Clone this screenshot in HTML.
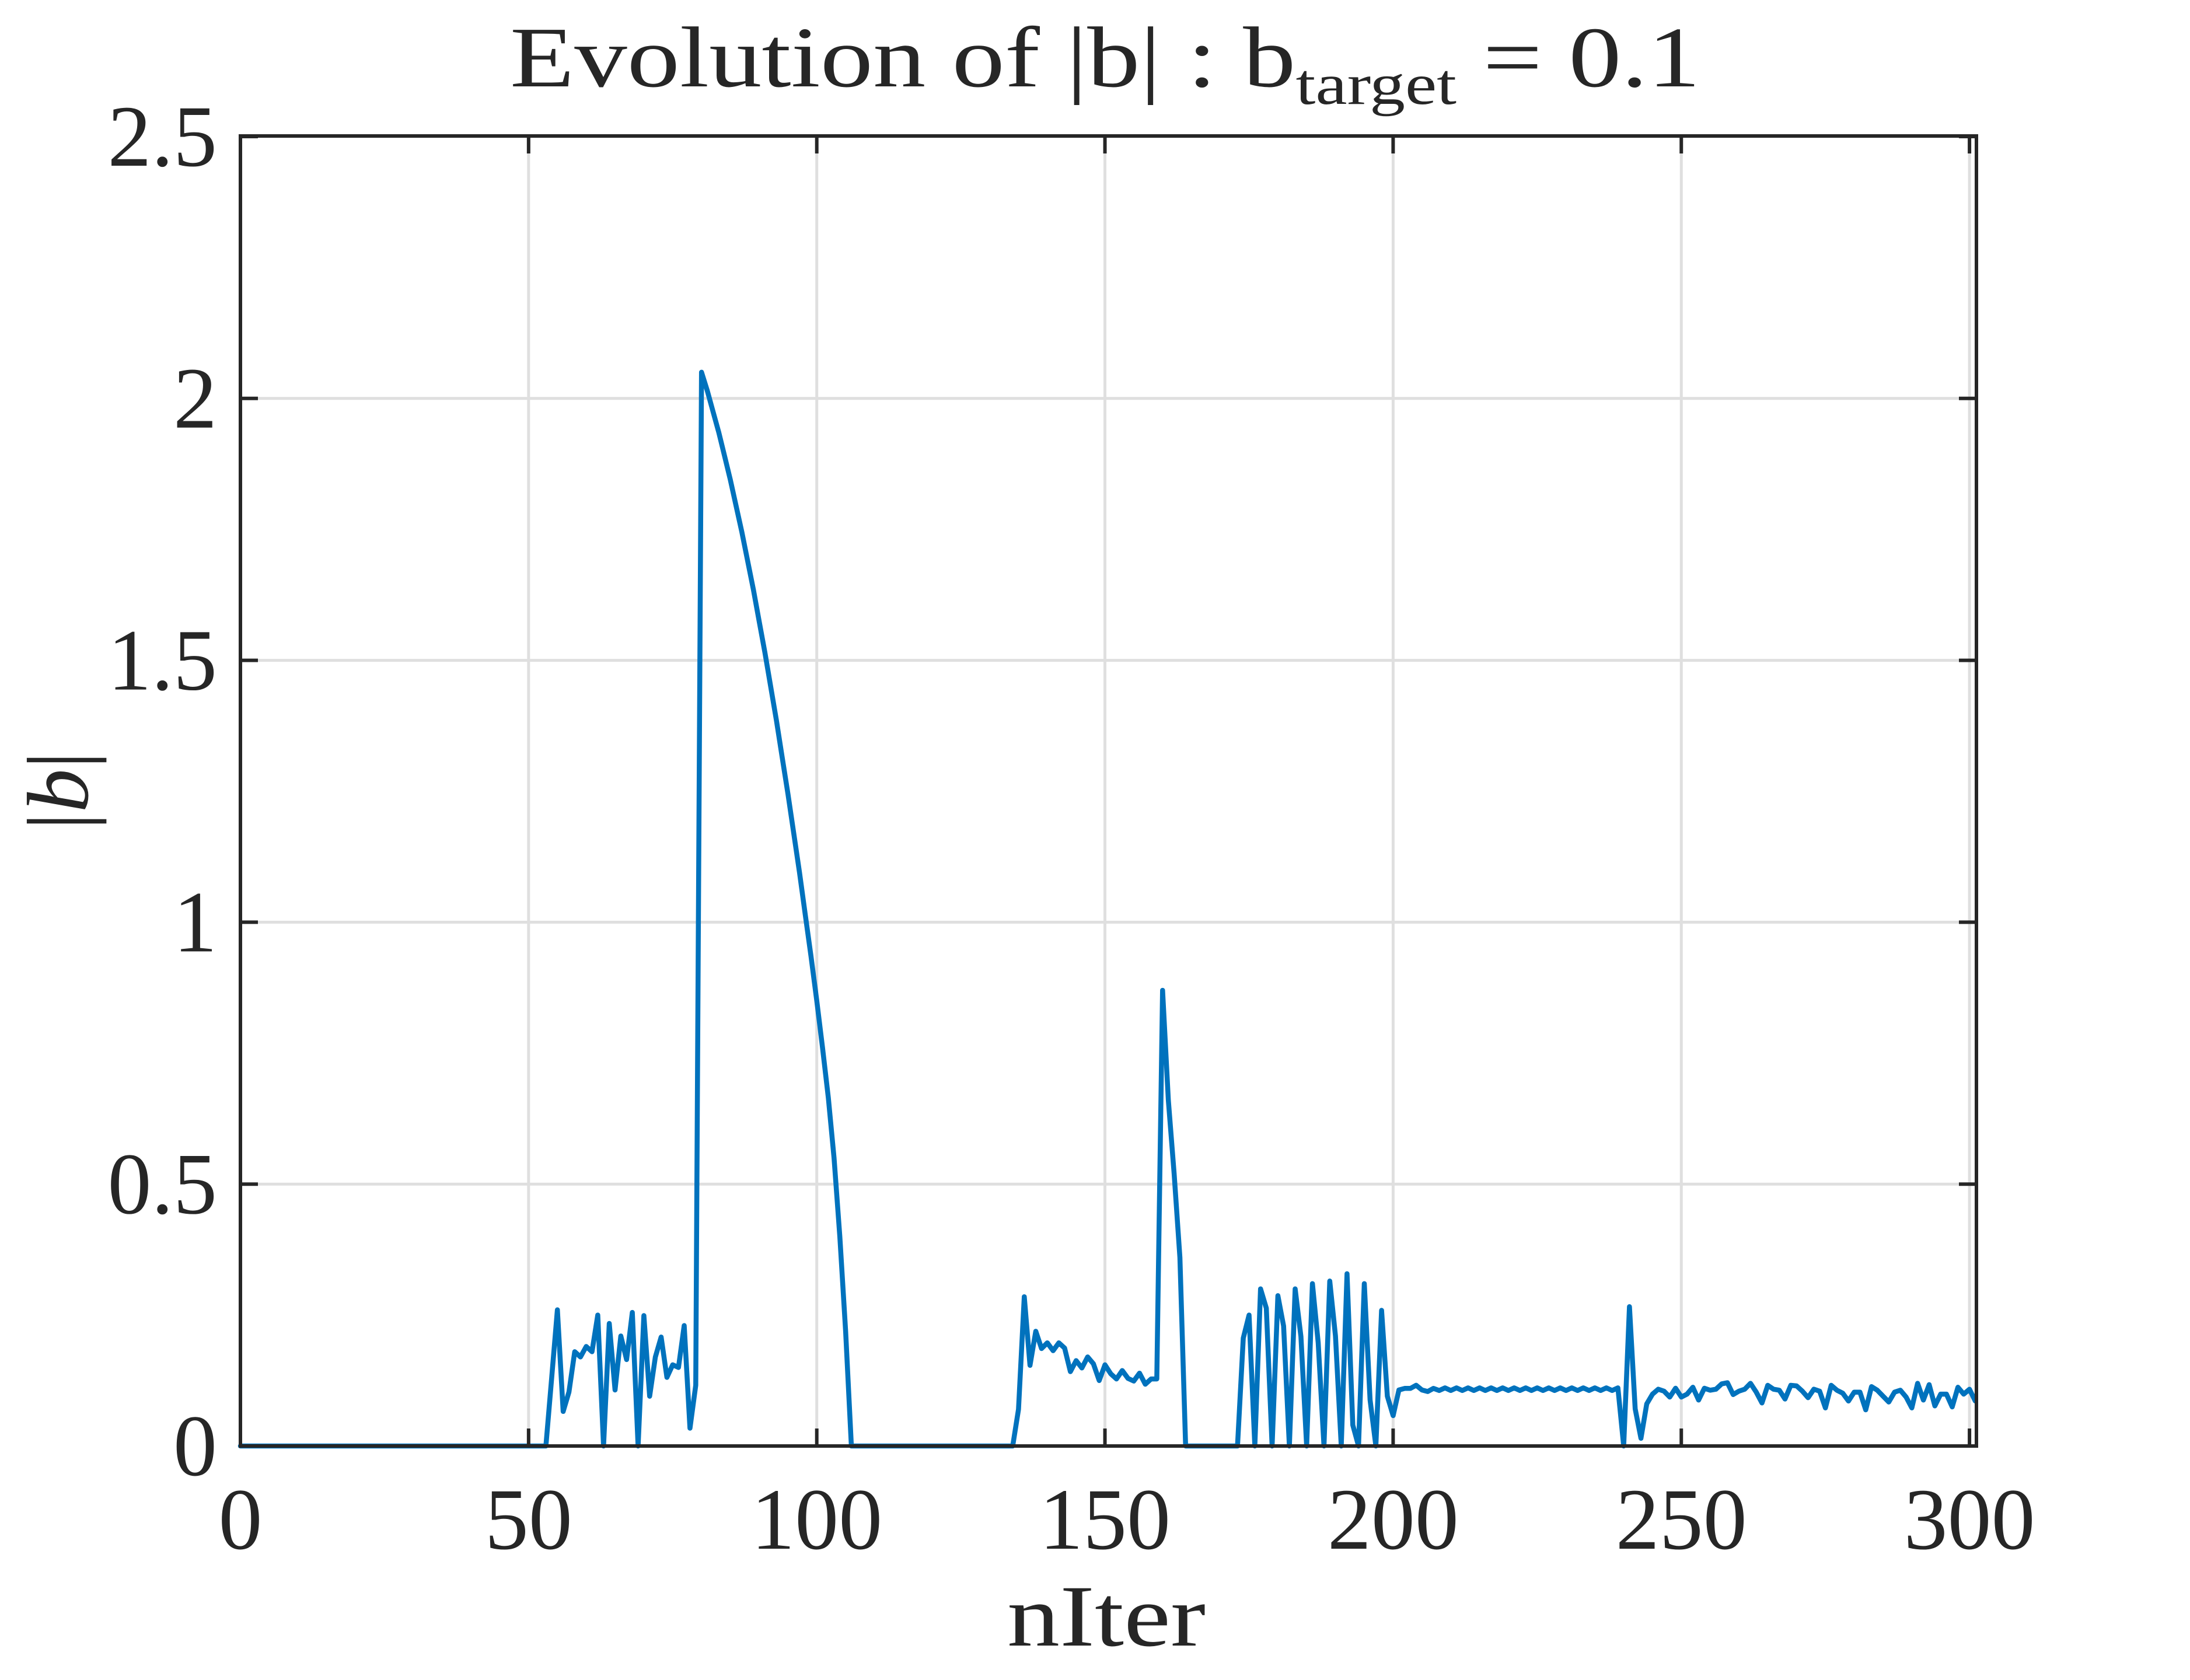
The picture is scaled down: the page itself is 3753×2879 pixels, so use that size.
<!DOCTYPE html>
<html><head><meta charset="utf-8"><style>
html,body{margin:0;padding:0;background:#fff;}
svg{display:block;}
text{font-family:"Liberation Serif",serif;fill:#262626;}
</style></head><body>
<svg id="s" width="3753" height="2879" viewBox="0 0 3753 2879" xmlns="http://www.w3.org/2000/svg">
<rect width="3753" height="2879" fill="#fff"/>
<g id="grid" stroke="#dfdfdf" stroke-width="5"></g>
<polyline id="line" fill="none" stroke="#0072BD" stroke-width="8.5" stroke-linejoin="round" stroke-linecap="round" points=""/>
<g id="ax" stroke="#262626" stroke-width="6" fill="none"></g>
<g id="lbl" font-size="150"></g>
<text x="874" y="148" font-size="148" textLength="2040" lengthAdjust="spacingAndGlyphs">Evolution of |b| : b<tspan font-size="100" dy="30">target</tspan><tspan dy="-30"> = 0.1</tspan></text>
<text x="1896" y="2820" font-size="150" text-anchor="middle" textLength="340" lengthAdjust="spacingAndGlyphs">nIter</text>
<text transform="translate(150,1355) rotate(-90)" font-size="150" text-anchor="middle">|<tspan font-style="italic">b</tspan>|</text>
</svg>
<script>
var X0=412,SX=9.877,Y0=2478,SY=897.6,XR=3387,YT=233;
function X(x){return X0+SX*x;}function Y(y){return Y0-SY*y;}
var NS="http://www.w3.org/2000/svg";
function el(p,t,a){var e=document.createElementNS(NS,t);for(var k in a)e.setAttribute(k,a[k]);p.appendChild(e);return e;}
var g=document.getElementById('grid'),ax=document.getElementById('ax'),lb=document.getElementById('lbl');
for(var i=0;i<=6;i++){var x=X(i*50);el(g,'line',{x1:x,x2:x,y1:YT,y2:Y0});
 el(ax,'line',{x1:x,x2:x,y1:Y0,y2:Y0-30});el(ax,'line',{x1:x,x2:x,y1:YT,y2:YT+30});
 var t=el(lb,'text',{x:x,y:2654,'text-anchor':'middle'});t.textContent=String(i*50);}
for(var j=0;j<=5;j++){var v=j*0.5,y=Y(v);el(g,'line',{x1:X0,x2:XR,y1:y,y2:y});
 el(ax,'line',{x1:X0,x2:X0+30,y1:y,y2:y});el(ax,'line',{x1:XR,x2:XR-30,y1:y,y2:y});
 var t=el(lb,'text',{x:372,y:y+50,'text-anchor':'end'});t.textContent=String(v);}
el(ax,'rect',{x:X0,y:YT,width:XR-X0,height:Y0-YT});
var d=[];for(var k=0;k<=301;k++)d[k]=0;
var a={53:0,54:0.13,55:0.26,56:0.066,57:0.103,58:0.18,59:0.17,60:0.19,61:0.18,62:0.25,63:0,64:0.234,65:0.107,66:0.21,67:0.165,68:0.255,69:0,70:0.249,71:0.095,72:0.17,73:0.208,74:0.131,75:0.155,76:0.15,77:0.23,78:0.034,79:0.116,
80:2.05,81:2.015,82:1.975,83:1.935,84:1.89,85:1.845,86:1.795,87:1.745,88:1.69,89:1.635,90:1.575,91:1.515,92:1.45,93:1.385,94:1.315,95:1.245,96:1.17,97:1.095,98:1.015,99:0.935,100:0.85,101:0.76,102:0.665,103:0.55,104:0.40,105:0.22,106:0,
134:0,135:0.07,136:0.285,137:0.154,138:0.219,139:0.186,140:0.197,141:0.182,142:0.197,143:0.187,144:0.142,145:0.163,146:0.149,147:0.17,148:0.157,149:0.125,150:0.155,151:0.138,152:0.128,153:0.144,154:0.129,155:0.124,156:0.139,157:0.118,158:0.128,159:0.128,
160:0.87,161:0.66,162:0.52,163:0.36,164:0,173:0,174:0.206,175:0.25,176:0,177:0.30,178:0.263,179:0,180:0.287,181:0.229,182:0,183:0.30,184:0.209,185:0,186:0.31,187:0.197,188:0,189:0.315,190:0.21,191:0,192:0.329,193:0.04,194:0,195:0.31,196:0.088,197:0,198:0.259,199:0.095,200:0.058,201:0.107,202:0.11,203:0.11,204:0.116,205:0.107,206:0.104,207:0.11,208:0.106};
for(var k in a)d[+k]=a[k];
for(var k=209;k<=239;k++)d[k]=(k%2?0.111:0.106);
var z=[null,665,265,785,935,760,710,685,695,725,680,725,710,675,740,680,690,685,658,652,712,695,685,655,700,755,665,685,690,735,665,668,695,728,685,695,780,665,690,705,745,700,700,790,672,690,720,750,700,690,725,780,655,740,662,770,710,710,775,675,710,685,745];
for(var k=241;k<=301;k++)d[k]=(328-z[k-239]/2.97)/898;
d[240]=0;
var pts=[];for(var k=0;k<=301;k++){var xx=X(k);if(xx>XR)xx=XR;pts.push(xx.toFixed(1)+','+Y(d[k]).toFixed(1));}
document.getElementById('line').setAttribute('points',pts.join(' '));
</script>
</body></html>
